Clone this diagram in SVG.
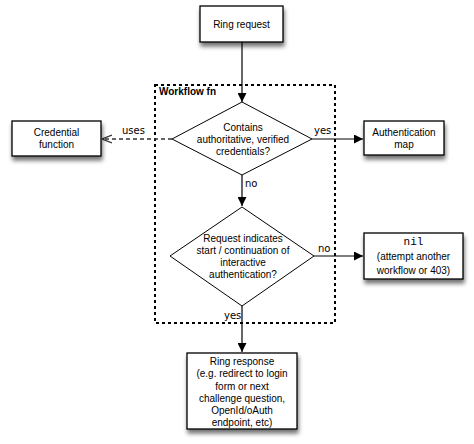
<svg xmlns="http://www.w3.org/2000/svg" width="474" height="444" viewBox="0 0 474 444">
<style>
.box{fill:#fff;stroke:#000;stroke-width:1.3;filter:url(#sh)}
.dia{fill:#fff;stroke:#000;stroke-width:1}
.t{font-family:"Liberation Sans",Arial,sans-serif;font-size:10px;fill:#000;text-anchor:middle}
.lbl{font-family:"DejaVu Sans",sans-serif;font-size:10px;fill:#000}
.ln{stroke:#000;stroke-width:1.2;fill:none}
.dash{stroke:#333;stroke-width:1.3;stroke-dasharray:4,3;fill:none}
.wf{fill:none;stroke:#000;stroke-width:2;stroke-dasharray:3,3}
</style>
<defs>
<filter id="sh" x="-20%" y="-20%" width="150%" height="160%">
<feDropShadow dx="1" dy="4" stdDeviation="2.2" flood-color="#000" flood-opacity="0.55"/>
</filter>
<marker id="ah" viewBox="0 0 10 10" refX="10" refY="5" markerWidth="9" markerHeight="9" markerUnits="userSpaceOnUse" orient="auto">
<path d="M0,0 L10,5 L0,10 Z" fill="#000"/>
</marker>
<marker id="oh" viewBox="0 0 10 10" refX="10" refY="5" markerWidth="10" markerHeight="10" markerUnits="userSpaceOnUse" orient="auto">
<path d="M0,1 L10,5 L0,9" fill="none" stroke="#333" stroke-width="1.3"/>
</marker>
</defs>

<g id="workflow">
<rect class="wf" x="155" y="85" width="180" height="238"/>
<text x="159" y="95" font-family="'Liberation Sans',Arial,sans-serif" font-size="10" font-weight="bold">Workflow fn</text>
</g>

<g id="connectors">
<line class="ln" x1="242" y1="42" x2="242" y2="102" marker-end="url(#ah)"/>
<line class="dash" x1="172" y1="139" x2="102" y2="139" marker-end="url(#oh)"/>
<text class="lbl" x="122" y="134">uses</text>
<line class="ln" x1="312" y1="139" x2="363" y2="139" marker-end="url(#ah)"/>
<text class="lbl" x="314" y="134">yes</text>
<line class="ln" x1="242" y1="175" x2="242" y2="206" marker-end="url(#ah)"/>
<text class="lbl" x="245" y="187">no</text>
<line class="ln" x1="314" y1="256" x2="363" y2="256" marker-end="url(#ah)"/>
<text class="lbl" x="318" y="252">no</text>
<line class="ln" x1="242" y1="306" x2="242" y2="352" marker-end="url(#ah)"/>
<text class="lbl" x="224" y="319">yes</text>
</g>

<g id="ring-request">
<rect class="box" x="200" y="6" width="83" height="36"/>
<text class="t" x="241.5" y="28">Ring request</text>
</g>

<g id="contains-credentials">
<polygon class="dia" points="242,102 312,139 242,175 172,139"/>
<text class="t" x="243" y="131">Contains</text>
<text class="t" x="243" y="143">authoritative, verified</text>
<text class="t" x="243" y="155">credentials?</text>
</g>

<g id="credential-function">
<rect class="box" x="12" y="121" width="89" height="35"/>
<text class="t" x="56.5" y="136">Credential</text>
<text class="t" x="56.5" y="148">function</text>
</g>

<g id="authentication-map">
<rect class="box" x="364" y="121" width="80" height="34"/>
<text class="t" x="404" y="136">Authentication</text>
<text class="t" x="404" y="148">map</text>
</g>

<g id="interactive-auth">
<polygon class="dia" points="242,207 314,256 242,306 170,256"/>
<text class="t" x="243" y="242">Request indicates</text>
<text class="t" x="243" y="254">start / continuation of</text>
<text class="t" x="243" y="266">interactive</text>
<text class="t" x="243" y="278">authentication?</text>
</g>

<g id="nil">
<rect class="box" x="364" y="233" width="99" height="46"/>
<text x="413.5" y="245" font-family="'Liberation Mono','Courier New',monospace" font-size="11" text-anchor="middle">nil</text>
<text class="t" x="413.5" y="260" font-size="11">(attempt another</text>
<text class="t" x="413.5" y="274" font-size="11">workflow or 403)</text>
</g>

<g id="ring-response">
<rect class="box" x="187" y="353" width="110" height="76"/>
<text class="t" x="242" y="365">Ring response</text>
<text class="t" x="242" y="377">(e.g. redirect to login</text>
<text class="t" x="242" y="389.5">form or next</text>
<text class="t" x="242" y="401.5">challenge question,</text>
<text class="t" x="242" y="414">OpenId/oAuth</text>
<text class="t" x="242" y="426">endpoint, etc)</text>
</g>
</svg>
